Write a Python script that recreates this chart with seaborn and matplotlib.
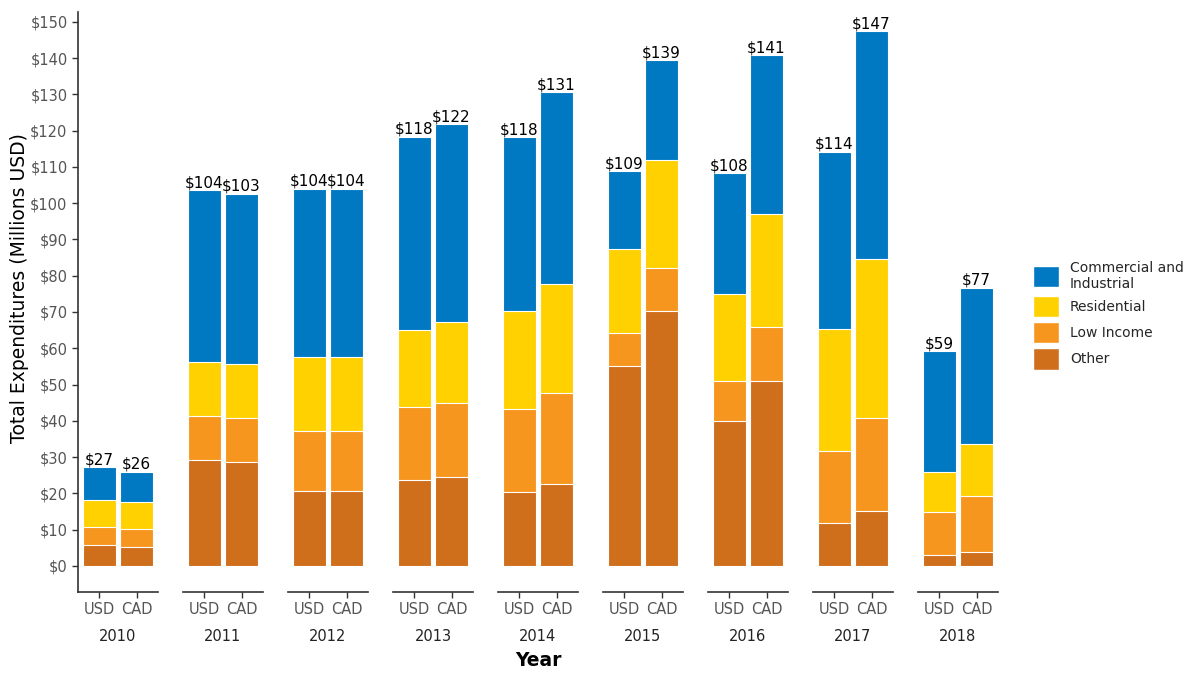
import pandas as pd
import matplotlib
matplotlib.use("Agg")
import matplotlib.pyplot as plt
from matplotlib.patches import Patch
import seaborn as sns

sns.set_theme(style="white")
plt.rcParams["font.family"] = ["DejaVu Sans"]

years = [2010, 2011, 2012, 2013, 2014, 2015, 2016, 2017, 2018]
currencies = ["USD", "CAD"]

# segment values in millions USD, ordered USD, CAD for each year
other = [5.7, 5.3, 29.1, 28.7, 20.6, 20.6, 23.7, 24.4, 20.3, 22.5,
         55.0, 70.4, 39.9, 51.1, 11.8, 15.1, 3.1, 3.8]
low_income = [4.9, 5.0, 12.3, 12.1, 16.5, 16.5, 20.0, 20.6, 22.9, 25.1,
              9.2, 11.8, 11.2, 14.7, 19.8, 25.7, 11.8, 15.5]
residential = [7.6, 7.2, 14.7, 14.8, 20.6, 20.6, 21.4, 22.1, 27.0, 30.0,
               23.2, 29.8, 23.9, 31.3, 33.7, 43.8, 11.1, 14.4]
commercial = [9.0, 8.5, 47.5, 47.0, 46.3, 46.3, 53.2, 54.7, 48.0, 53.0,
              21.4, 27.4, 33.2, 43.7, 48.9, 62.8, 33.2, 43.0]

layers = ["Commercial and Industrial", "Residential", "Low Income", "Other"]
colors = {"Commercial and Industrial": "#0079C2",
          "Residential": "#FFD100",
          "Low Income": "#F7961E",
          "Other": "#CF6F1C"}
legend_labels = ["Commercial and\nIndustrial", "Residential", "Low Income", "Other"]

df = pd.DataFrame({
    "year": [y for y in years for _ in currencies],
    "currency": currencies * len(years),
    "Other": other,
    "Low Income": low_income,
    "Residential": residential,
    "Commercial and Industrial": commercial,
})
# cumulative heights so the tallest layer is drawn first and covered by the next
df["top_Other"] = df["Other"]
df["top_Low Income"] = df["top_Other"] + df["Low Income"]
df["top_Residential"] = df["top_Low Income"] + df["Residential"]
df["top_Commercial and Industrial"] = df["top_Residential"] + df["Commercial and Industrial"]

fig, axes = plt.subplots(
    1, len(years), sharey=True, figsize=(12.01, 6.73), dpi=100,
    gridspec_kw=dict(left=78 / 1201, right=998 / 1201, top=1 - 12 / 673,
                     bottom=1 - 592 / 673, wspace=0.3125),
)

for i, (ax, year) in enumerate(zip(axes, years)):
    sub = df[df["year"] == year]
    for layer in layers:
        sns.barplot(data=sub, x="currency", y=f"top_{layer}", order=currencies,
                    color=colors[layer], width=0.9, edgecolor="white",
                    linewidth=0.8, saturation=1, errorbar=None, ax=ax)
    totals = sub[f"top_{layers[0]}"].round().astype(int)
    ax.bar_label(ax.containers[0], labels=[f"${t}" for t in totals],
                 padding=0, fontsize=11, color="black")
    ax.set_xlim(-0.58, 1.58)
    ax.set_ylim(-7.2, 152.7)
    ax.set_xlabel(str(year), fontsize=10.5, color="#222222", labelpad=9)
    ax.set_ylabel("")
    for s in ["top", "right"]:
        ax.spines[s].set_visible(False)
    ax.spines["bottom"].set_color("#333333")
    ax.spines["bottom"].set_linewidth(1.2)
    ax.tick_params(axis="x", bottom=True, length=4, width=1, color="#333333",
                   labelsize=10.5, labelcolor="#555555", pad=3)
    if i == 0:
        ax.spines["left"].set_color("#333333")
        ax.spines["left"].set_linewidth(1.2)
        ax.tick_params(axis="y", left=True, length=4, width=1, color="#333333",
                       labelsize=10.5, labelcolor="#555555")
    else:
        ax.spines["left"].set_visible(False)
        ax.tick_params(axis="y", left=False, labelleft=False)

axes[0].set_yticks(range(0, 151, 10))
axes[0].set_yticklabels([f"${v}" for v in range(0, 151, 10)])

fig.text(20 / 1201, 1 - 288 / 673, "Total Expenditures (Millions USD)",
         rotation=90, ha="center", va="center", fontsize=13.5, color="black")
fig.text(538 / 1201, 1 - 661 / 673, "Year", ha="center", va="center",
         fontsize=13.5, fontweight="bold", color="black")

handles = [Patch(facecolor=colors[l], edgecolor="white") for l in layers]
fig.legend(handles, legend_labels, loc="upper left",
           bbox_to_anchor=(1020 / 1201, 1 - 248 / 673), frameon=False,
           fontsize=10, handlelength=1.9, handleheight=2.0,
           labelspacing=0.35, handletextpad=0.8)

fig.savefig("out.png", dpi=100)
